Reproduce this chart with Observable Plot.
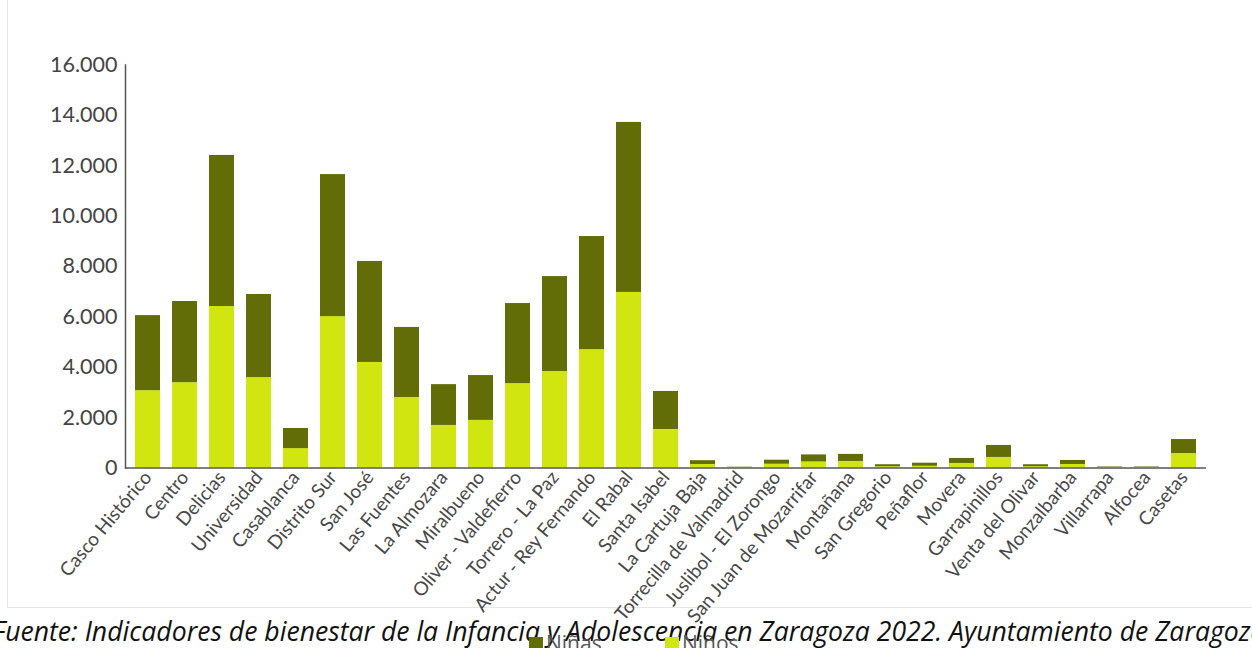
<!DOCTYPE html>
<html>
<head>
<meta charset="utf-8">
<script src="https://cdn.jsdelivr.net/npm/d3@7"></script>
<script src="https://cdn.jsdelivr.net/npm/@observablehq/plot@0.6"></script>
<style>
  html, body { margin: 0; padding: 0; background: #fff; }
  body { width: 1252px; height: 648px; overflow: hidden; position: relative; }
  #frame { position: absolute; left: 7px; top: -20px; width: 1300px; height: 628px; border: 1px solid #e6e6e6; box-sizing: border-box; }
  #chart { position: absolute; left: 0; top: 0; }
  #chart svg { overflow: visible; }
  #caption { position: absolute; left: 629px; top: 613px; transform: translateX(-50%); white-space: nowrap;
    font-family: "Open Sans", sans-serif; font-style: italic; font-size: 26.6px; color: #111; }
  #legend { position: absolute; left: 529px; top: 636px; font-family: "Open Sans", sans-serif; font-size: 21px; color: #555; display: flex; z-index: 2; }
  .item { display: flex; align-items: flex-start; width: 136px; }
  .sw { width: 14px; height: 14px; margin-top: 1px; margin-right: 3px; flex: none; }
  .lbl { line-height: 21px; margin-top: -3px; }
</style>
</head>
<body>
<div id="frame"></div>
<div id="chart"></div>
<div id="caption">Fuente: Indicadores de bienestar de la Infancia y Adolescencia en Zaragoza 2022. Ayuntamiento de Zaragoza</div>
<div id="legend"></div>
<script>
const distritos = ["Casco Histórico","Centro","Delicias","Universidad","Casablanca","Distrito Sur","San José","Las Fuentes","La Almozara","Miralbueno","Oliver - Valdefierro","Torrero - La Paz","Actur - Rey Fernando","El Rabal","Santa Isabel","La Cartuja Baja","Torrecilla de Valmadrid","Juslibol - El Zorongo","San Juan de Mozarrifar","Montañana","San Gregorio","Peñaflor","Movera","Garrapinillos","Venta del Olivar","Monzalbarba","Villarrapa","Alfocea","Casetas"];
const ninos = [3070,3390,6410,3590,770,6010,4190,2800,1690,1890,3350,3830,4700,6970,1530,140,25,150,240,260,50,70,180,420,50,140,20,20,575];
const ninas = [2980,3220,6000,3300,800,5640,4010,2780,1620,1780,3180,3770,4490,6750,1510,150,10,160,280,280,80,120,200,475,80,160,20,20,555];
const series = ["Niñas","Niños"];
const colors = ["#636d07","#d1e511"];
const yTicks = [0,2000,4000,6000,8000,10000,12000,14000,16000];

const data = [];
distritos.forEach((d, i) => {
  data.push({distrito: d, sexo: "Niños", valor: ninos[i]});
  data.push({distrito: d, sexo: "Niñas", valor: ninas[i]});
});

const fmt = d3.formatLocale({decimal: ",", thousands: ".", grouping: [3], currency: ["", "€"]}).format(",");

const chart = Plot.plot({
  width: 1252,
  height: 648,
  marginTop: 64.5,
  marginBottom: 180.5,
  marginLeft: 125,
  marginRight: 46,
  style: {fontFamily: "Lato, sans-serif", color: "#444", background: "transparent", overflow: "visible"},
  x: {domain: distritos, paddingInner: 0.33, paddingOuter: 0.165, label: null},
  y: {domain: [0, 16000], label: null},
  color: {domain: series, range: colors},
  marks: [
    Plot.barY(data, {x: "distrito", y: "valor", fill: "sexo"}),
    Plot.frame({anchor: "left", stroke: "#555", strokeWidth: 1.5}),
    Plot.ruleY([0], {stroke: "#555", strokeWidth: 1.5}),
    Plot.axisY({ticks: yTicks, tickFormat: fmt, tickSize: 0, tickPadding: 8, fontSize: 21.5, fill: "#444", label: null}),
    Plot.axisX({tickRotate: -50, tickSize: 0, tickPadding: 6, fontSize: 19, fill: "#484848", label: null})
  ]
});
document.getElementById("chart").appendChild(chart);

const legend = document.getElementById("legend");
series.forEach((s, i) => {
  const it = document.createElement("div");
  it.className = "item";
  it.innerHTML = `<div class="sw" style="background:${colors[i]}"></div><div class="lbl">${s}</div>`;
  legend.appendChild(it);
});
</script>
</body>
</html>
